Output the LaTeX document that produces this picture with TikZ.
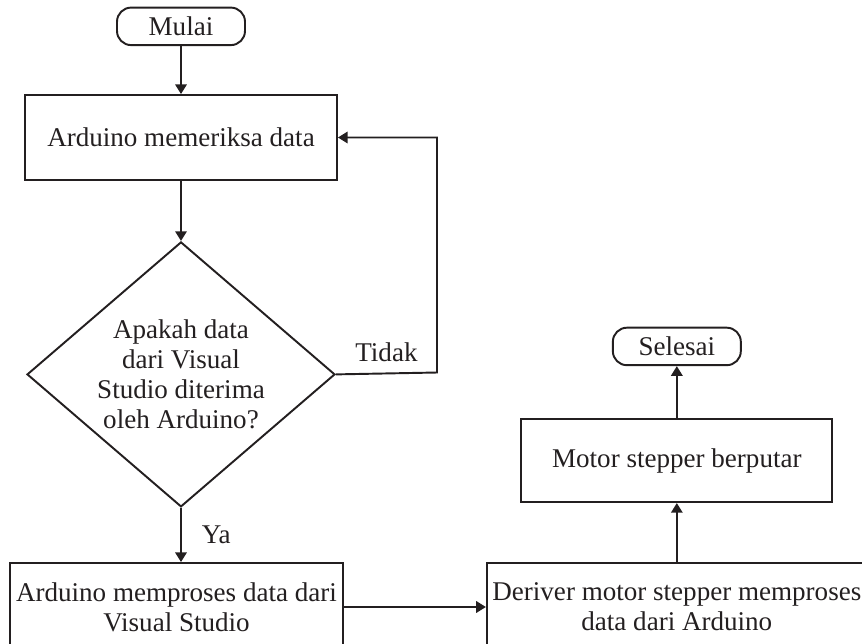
\documentclass[tikz,border=0pt]{standalone}
\usepackage{fontspec}
\setmainfont{Liberation Serif}
\usepackage{xcolor}
\usetikzlibrary{arrows.meta,positioning,shapes.geometric}
\definecolor{ink}{RGB}{35,31,32}

\begin{document}
\begin{tikzpicture}[
  x=0.02cm, y=0.02cm,
  every node/.style={font=\fontsize{15.4}{17}\selectfont,text=ink},
  term/.style={rectangle,rounded corners=8pt,draw=ink,line width=1.1pt,minimum width=2.56cm,minimum height=0.75cm,inner sep=0pt},
  proc/.style={rectangle,draw=ink,line width=1.1pt,align=center,inner sep=0pt},
  dec/.style={diamond,draw=ink,line width=1.1pt,align=center,aspect=1.16,inner sep=0pt,minimum width=6.16cm,minimum height=5.3cm},
  arr/.style={-{Triangle[length=5.5pt,width=6.5pt]},line width=1.1pt,draw=ink},
  node distance=1.2cm
]
\useasboundingbox (0,0) rectangle (862,-643);
\clip (0,0) rectangle (862,-643);

\node[proc,minimum width=6.24cm,minimum height=1.7cm] (periksa) at (181,-137.5) {Arduino memeriksa data};
\node[term, above=0.96cm of periksa] (mulai) {Mulai};
\node[dec, below=of periksa] (cek) {Apakah data\\dari Visual\\Studio diterima\\oleh Arduino?};
\node[proc,minimum width=6.66cm,minimum height=1.76cm] (proses) at (176.5,-607) {Arduino memproses data dari\\Visual Studio};
\node[proc,minimum width=7.6cm,minimum height=1.76cm, right=2.84cm of proses] (driver) {Deriver motor stepper memproses\\data dari Arduino};
\node[proc,minimum width=6.22cm,minimum height=1.66cm, above=1.18cm of driver] (motor) {Motor stepper berputar};
\node[term, above=1.04cm of motor] (selesai) {Selesai};
\coordinate (balik) at (437,-372.5);

\draw[arr] (mulai) -- (periksa);
\draw[arr] (periksa) -- (cek);
\draw[arr] (cek.east) -- node[above=3pt]{Tidak} (balik) |- (periksa.east);
\draw[arr] (cek.south) -- node[right=8pt]{Ya} (cek.south |- proses.north);
\draw[arr] (proses.east |- driver.west) -- (driver.west);
\draw[arr] (driver.north) -- (motor.south);
\draw[arr] (motor) -- (selesai);
\end{tikzpicture}
\end{document}
